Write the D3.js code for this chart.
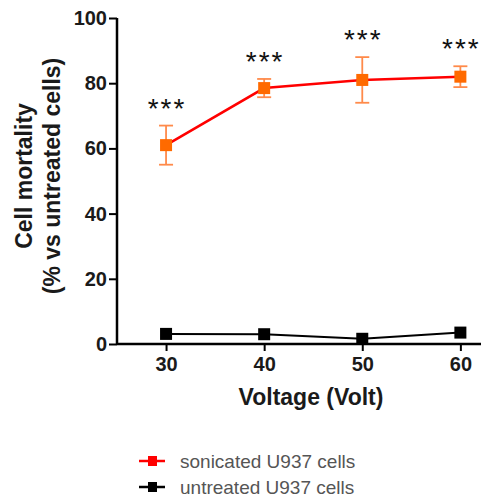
<!DOCTYPE html>
<html>
<head>
<meta charset="utf-8">
<script src="https://cdn.jsdelivr.net/npm/d3@7"></script>
<style>
  body { margin: 0; background: #fff; }
  svg { display: block; font-family: Arial, "Liberation Sans", sans-serif; }
</style>
</head>
<body>
<div id="chart"></div>
<script>
const voltages = [30, 40, 50, 60];
const sonicated = [61, 78.5, 81, 82];
const sonicatedErr = [6, 2.8, 7, 3.2];
const untreated = [3.1, 3.0, 1.6, 3.5];
const yTicks = [0, 20, 40, 60, 80, 100];
const stars = ["***", "***", "***", "***"];
const legendLabels = ["sonicated U937 cells", "untreated U937 cells"];

const width = 481;
const height = 500;

const svg = d3.select("#chart")
  .append("svg")
  .attr("width", width)
  .attr("height", height);

const x = d3.scaleLinear().domain([25, 62]).range([117, 480]);
const y = d3.scaleLinear().domain([0, 100]).range([344, 18]);

// axes
const yAxis = svg.append("g")
  .attr("transform", "translate(117,0)")
  .call(d3.axisLeft(y).tickValues(yTicks).tickSize(8).tickPadding(2));
const xAxis = svg.append("g")
  .attr("transform", "translate(0,344)")
  .call(d3.axisBottom(x).tickValues(voltages).tickSize(7).tickPadding(6));

[yAxis, xAxis].forEach(g => {
  g.select(".domain").attr("stroke", "#000").attr("stroke-width", 2.5);
  g.selectAll(".tick line").attr("stroke", "#000").attr("stroke-width", 2);
  g.selectAll(".tick text")
    .attr("fill", "#1a1a1a")
    .style("font-size", "20px")
    .style("font-weight", "bold");
});
xAxis.select(".domain").attr("d", "M117,0H481");
yAxis.select(".domain").attr("d", "M0,18V345");

// untreated line
svg.append("path")
  .datum(voltages.map((v, i) => [v, untreated[i]]))
  .attr("fill", "none")
  .attr("stroke", "#000")
  .attr("stroke-width", 2)
  .attr("d", d3.line().x(d => x(d[0])).y(d => y(d[1])));

svg.selectAll(".ut")
  .data(voltages)
  .enter()
  .append("rect")
  .attr("x", (d, i) => x(d) - 6)
  .attr("y", (d, i) => y(untreated[i]) - 6)
  .attr("width", 12)
  .attr("height", 12)
  .attr("fill", "#000");

// sonicated error bars
const err = svg.selectAll(".err")
  .data(voltages)
  .enter()
  .append("g")
  .attr("stroke", "#ff8a4a")
  .attr("stroke-width", 1.8);
err.append("line")
  .attr("x1", d => x(d)).attr("x2", d => x(d))
  .attr("y1", (d, i) => y(sonicated[i] + sonicatedErr[i]))
  .attr("y2", (d, i) => y(sonicated[i] - sonicatedErr[i]));
err.append("line")
  .attr("x1", d => x(d) - 7).attr("x2", d => x(d) + 7)
  .attr("y1", (d, i) => y(sonicated[i] + sonicatedErr[i]))
  .attr("y2", (d, i) => y(sonicated[i] + sonicatedErr[i]));
err.append("line")
  .attr("x1", d => x(d) - 7).attr("x2", d => x(d) + 7)
  .attr("y1", (d, i) => y(sonicated[i] - sonicatedErr[i]))
  .attr("y2", (d, i) => y(sonicated[i] - sonicatedErr[i]));

svg.append("path")
  .datum(voltages.map((v, i) => [v, sonicated[i]]))
  .attr("fill", "none")
  .attr("stroke", "#ff0000")
  .attr("stroke-width", 2.5)
  .attr("d", d3.line().x(d => x(d[0])).y(d => y(d[1])));

svg.selectAll(".son")
  .data(voltages)
  .enter()
  .append("rect")
  .attr("x", d => x(d) - 6)
  .attr("y", (d, i) => y(sonicated[i]) - 6)
  .attr("width", 12)
  .attr("height", 12)
  .attr("fill", "#ff6a00");

// significance stars
svg.selectAll(".star")
  .data(voltages)
  .enter()
  .append("text")
  .attr("x", d => x(d) + 1)
  .attr("y", (d, i) => y(sonicated[i] + sonicatedErr[i]) - 8)
  .attr("text-anchor", "middle")
  .style("font-size", "28px")
  .style("letter-spacing", "2px")
  .attr("fill", "#111")
  .text((d, i) => stars[i]);

// axis titles
svg.append("text")
  .attr("x", 311)
  .attr("y", 405)
  .attr("text-anchor", "middle")
  .style("font-size", "23px")
  .style("font-weight", "bold")
  .attr("fill", "#1a1a1a")
  .text("Voltage (Volt)");

const yt = svg.append("text")
  .attr("transform", "translate(0,176) rotate(-90)")
  .attr("text-anchor", "middle")
  .style("font-size", "23px")
  .style("font-weight", "bold")
  .attr("fill", "#1a1a1a");
yt.append("tspan").attr("x", 0).attr("y", 32).text("Cell mortality");
yt.append("tspan").attr("x", 0).attr("y", 60).text("(% vs untreated cells)");

// legend
const legendColors = ["#ff0000", "#000"];
const lg = svg.selectAll(".lg")
  .data(legendLabels)
  .enter()
  .append("g")
  .attr("transform", (d, i) => `translate(139,${461 + i * 26})`);
lg.append("line")
  .attr("x1", 0).attr("x2", 26).attr("y1", 0).attr("y2", 0)
  .attr("stroke", (d, i) => legendColors[i])
  .attr("stroke-width", 2.5);
lg.append("rect")
  .attr("x", 9).attr("y", -5).attr("width", 9).attr("height", 10)
  .attr("fill", (d, i) => legendColors[i]);
lg.append("text")
  .attr("x", 41)
  .attr("y", 7)
  .style("font-size", "19px")
  .attr("fill", "#555")
  .text(d => d);
</script>
</body>
</html>
